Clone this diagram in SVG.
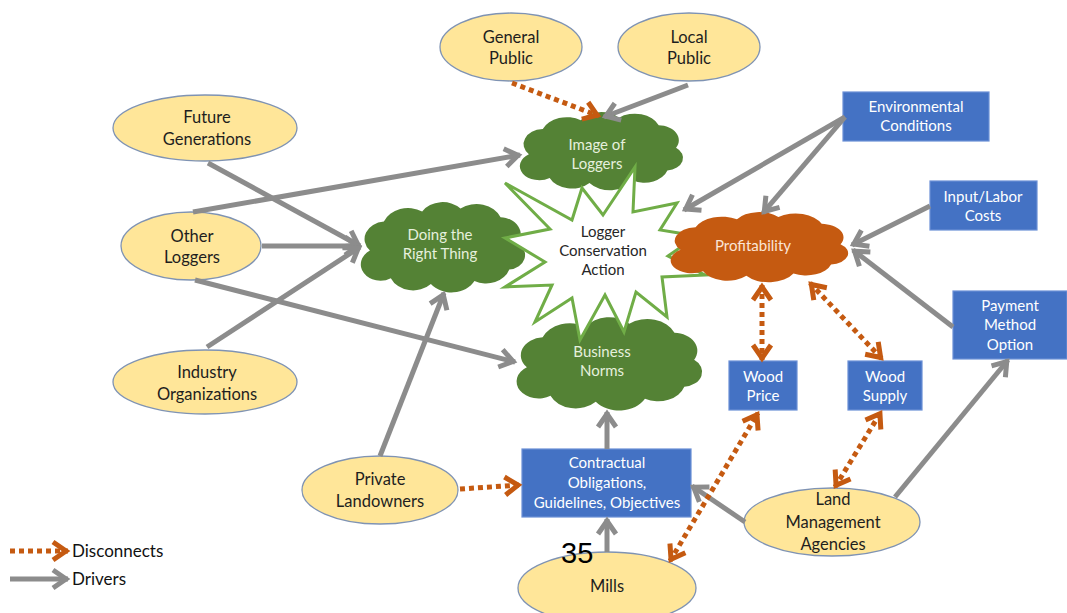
<svg xmlns="http://www.w3.org/2000/svg" width="1067" height="613" viewBox="0 0 1067 613">
<style>
.el{fill:#FFE699;stroke:#7f93b3;stroke-width:1.3}
.rc{fill:#4472C4;stroke:#6a8fd6;stroke-width:1.2}
.t{font-family:Lato,"Liberation Sans",sans-serif;text-anchor:middle}
.te{font-size:16.5px;fill:#1e1e1e}
.tr{font-size:15px;fill:#ffffff}
.tg{font-size:15px;fill:#e6f0dd}
.to{font-size:15px;fill:#fbe5d6}
.drv{stroke:#8c8c8c;stroke-width:5;fill:none;marker-end:url(#ag)}
.dis{stroke:#C55A11;stroke-width:5;fill:none;stroke-dasharray:5 4;marker-end:url(#ao)}
.dis2{stroke:#C55A11;stroke-width:5;fill:none;stroke-dasharray:5 4;marker-end:url(#ao);marker-start:url(#ao)}
</style>
<defs>
<marker id="ag" viewBox="-20 -12 26 24" refX="0" refY="0" markerWidth="26" markerHeight="24" markerUnits="userSpaceOnUse" orient="auto-start-reverse" overflow="visible">
<path d="M-15,-9 L-2,0 L-15,9" fill="none" stroke="#8c8c8c" stroke-width="5" stroke-dasharray="none"/>
</marker>
<marker id="ao" viewBox="-20 -12 26 24" refX="0" refY="0" markerWidth="26" markerHeight="24" markerUnits="userSpaceOnUse" orient="auto-start-reverse" overflow="visible">
<path d="M-15,-9 L-2,0 L-15,9" fill="none" stroke="#C55A11" stroke-width="5" stroke-dasharray="none"/>
</marker>
<path id="cloud" d="M10,35 A12,12 0 0 1 18,15 A15,15 0 0 1 40,8 A14,14 0 0 1 62,6 A15,15 0 0 1 85,12 A12,12 0 0 1 95,30 A10,10 0 0 1 90,48 A14,14 0 0 1 70,56 A15,15 0 0 1 45,58 A14,14 0 0 1 22,54 A11,11 0 0 1 10,35 Z"/>
</defs>

<g id="general-public"><ellipse class="el" cx="511" cy="47" rx="71" ry="34"/><text class="t te" x="511" y="43">General</text><text class="t te" x="511" y="64">Public</text></g>
<g id="local-public"><ellipse class="el" cx="689" cy="47" rx="71" ry="34"/><text class="t te" x="689" y="43">Local</text><text class="t te" x="689" y="64">Public</text></g>
<g id="future-generations"><ellipse class="el" cx="205" cy="128" rx="92" ry="33"/><text class="t te" x="207" y="123">Future</text><text class="t te" x="207" y="145">Generations</text></g>
<g id="other-loggers"><ellipse class="el" cx="191" cy="246" rx="70" ry="34"/><text class="t te" x="192" y="242">Other</text><text class="t te" x="192" y="263">Loggers</text></g>
<g id="industry-organizations"><ellipse class="el" cx="205" cy="382" rx="92" ry="32"/><text class="t te" x="207" y="378">Industry</text><text class="t te" x="207" y="400">Organizations</text></g>
<g id="private-landowners"><ellipse class="el" cx="380" cy="490" rx="78" ry="34"/><text class="t te" x="380" y="485">Private</text><text class="t te" x="380" y="507">Landowners</text></g>
<g id="mills"><ellipse class="el" cx="607" cy="588" rx="89" ry="36"/><text class="t te" x="607" y="592">Mills</text></g>
<g id="land-management-agencies"><ellipse class="el" cx="832" cy="522" rx="88" ry="34"/><text class="t te" x="833" y="505">Land</text><text class="t te" x="833" y="528">Management</text><text class="t te" x="833" y="550">Agencies</text></g>

<g id="environmental-conditions"><rect class="rc" x="843" y="92" width="146" height="49"/><text class="t tr" x="916" y="112">Environmental</text><text class="t tr" x="916" y="131">Conditions</text></g>
<g id="input-labor-costs"><rect class="rc" x="930" y="181" width="107" height="49"/><text class="t tr" x="983" y="202">Input/Labor</text><text class="t tr" x="983" y="221">Costs</text></g>
<g id="payment-method-option"><rect class="rc" x="953" y="291" width="114" height="68"/><text class="t tr" x="1010" y="311">Payment</text><text class="t tr" x="1010" y="330">Method</text><text class="t tr" x="1010" y="350">Option</text></g>
<g id="wood-price"><rect class="rc" x="729" y="361" width="68" height="49"/><text class="t tr" x="763" y="382">Wood</text><text class="t tr" x="763" y="401">Price</text></g>
<g id="wood-supply"><rect class="rc" x="848" y="361" width="74" height="49"/><text class="t tr" x="885" y="382">Wood</text><text class="t tr" x="885" y="401">Supply</text></g>
<g id="contractual-obligations"><rect class="rc" x="522" y="449" width="169" height="68"/><text class="t tr" x="607" y="468">Contractual</text><text class="t tr" x="607" y="488">Obligations,</text><text class="t tr" x="607" y="508">Guidelines, Objectives</text></g>

<g id="image-of-loggers"><use href="#cloud" fill="#548235" transform="translate(511.6,110.1) scale(1.731,1.258)"/><text class="t tg" x="597" y="150">Image of</text><text class="t tg" x="597" y="169">Loggers</text></g>
<g id="doing-the-right-thing"><use href="#cloud" fill="#548235" transform="translate(352.5,199.8) scale(1.742,1.452)"/><text class="t tg" x="440" y="240">Doing the</text><text class="t tg" x="440" y="259">Right Thing</text></g>
<g id="business-norms"><use href="#cloud" fill="#548235" transform="translate(507.2,314.8) scale(1.968,1.5)"/><text class="t tg" x="602" y="357">Business</text><text class="t tg" x="602" y="376">Norms</text></g>

<g id="logger-conservation-action"><polygon points="505,238 550,229 505,183 572,220 582,188 603,215 635,167 633,212 677,203 660,230 697,236 668,256 705,275 662,277 667,317 636,292 624,332 605,295 580,340 572,298 535,322 552,285 505,287 545,262" fill="#ffffff" stroke="#70AD47" stroke-width="3" stroke-linejoin="miter"/><text class="t" font-size="15" fill="#262626" x="603" y="237">Logger</text><text class="t" font-size="15" fill="#262626" x="603" y="256">Conservation</text><text class="t" font-size="15" fill="#262626" x="603" y="275">Action</text></g>

<g id="profitability"><use href="#cloud" fill="#C55A11" transform="translate(661.7,210.3) scale(1.882,1.129)"/><text class="t to" x="753" y="251">Profitability</text></g>

<g id="connectors">
<line class="dis" x1="512" y1="83" x2="599" y2="116"/>
<line class="drv" x1="688" y1="85" x2="604" y2="117"/>
<line class="drv" x1="208" y1="163" x2="360" y2="246"/>
<line class="drv" x1="193" y1="212" x2="520" y2="155"/>
<line class="drv" x1="262" y1="246" x2="360" y2="246"/>
<line class="drv" x1="195" y1="280" x2="515" y2="362"/>
<line class="drv" x1="207" y1="347" x2="360" y2="247"/>
<line class="drv" x1="380" y1="456" x2="444" y2="293"/>
<line class="dis" x1="460" y1="489" x2="520" y2="485"/>
<line class="drv" x1="607" y1="449" x2="607" y2="412"/>
<line class="drv" x1="607" y1="552" x2="607" y2="519"/>
<line class="drv" x1="745" y1="522" x2="692" y2="486"/>
<line class="drv" x1="895" y1="497" x2="1008" y2="360"/>
<line class="dis2" x1="835" y1="487" x2="881" y2="412"/>
<line class="dis2" x1="670" y1="561" x2="758" y2="413"/>
<line class="dis2" x1="762" y1="285" x2="762" y2="360"/>
<line class="dis2" x1="810" y1="283" x2="882" y2="359"/>
<line class="drv" x1="845" y1="117" x2="684" y2="210"/>
<line class="drv" x1="845" y1="117" x2="763" y2="213"/>
<line class="drv" x1="930" y1="206" x2="852" y2="245"/>
<line class="drv" x1="953" y1="327" x2="853" y2="250"/>
</g>

<g id="legend">
<line class="dis" x1="10" y1="551" x2="68" y2="551"/>
<text x="72" y="557" font-family="Lato,'Liberation Sans',sans-serif" font-size="17" fill="#111">Disconnects</text>
<line class="drv" x1="10" y1="579" x2="68" y2="579"/>
<text x="72" y="585" font-family="Lato,'Liberation Sans',sans-serif" font-size="17" fill="#111">Drivers</text>
</g>

<text x="561" y="563" font-family="'Liberation Sans',Arial,sans-serif" font-size="29" fill="#000">35</text>
</svg>
